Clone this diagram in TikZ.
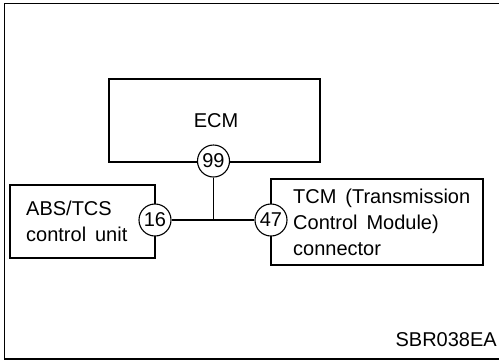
\documentclass[tikz,border=0pt]{standalone}
\usepackage{fontspec}
\setmainfont{Liberation Sans}[WordSpace=1.6]
\begin{document}
\begin{tikzpicture}[x=1pt,y=-1pt,
  box/.style={draw,line width=1.2pt},
  pin/.style={draw,circle,fill=white,line width=1.1pt,minimum size=32pt,inner sep=0pt,font=\fontsize{20}{24}\selectfont},
  lbl/.style={anchor=base west,inner sep=0pt,font=\fontsize{20}{24}\selectfont},
  wire/.style={line width=1.2pt}]
\useasboundingbox (0,0) rectangle (499,360);
\draw[line width=1.4pt] (499,3.5) -- (4.5,3.5) -- (4.5,359) -- (499,359);
% boxes
\node[box,minimum width=211pt,minimum height=83pt,inner sep=0pt] (ecm) at (214.5,120.5) {};
\node[box,minimum width=145pt,minimum height=73pt,inner sep=0pt] (abs) at (82.5,221.5) {};
\node[box,minimum width=212pt,minimum height=86pt,inner sep=0pt] (tcm) at (377,222) {};
% labels
\node[anchor=base,inner sep=0pt,font=\fontsize{20}{24}\selectfont] (ecmt) at (216,127) {ECM};
\node[lbl] (abs1) at (26,215) {ABS/TCS};
\node[lbl] (abs2) at (26,241) {control unit};
\node[lbl] (tcm1) at (293,203) {TCM (Transmission};
\node[lbl] (tcm2) at (293,229) {Control Module)};
\node[lbl] (tcm3) at (293,255) {connector};
\node[anchor=base east,inner sep=0pt,font=\fontsize{20}{24}\selectfont] (code) at (497,346) {SBR038EA};
% pins
\node[pin] (p99) at (213.5,161) {99};
\node[pin] (p16) at (155,220) {16};
\node[pin] (p47) at (271,220) {47};
\coordinate (j) at (p99.south |- p16.east);
\draw[wire] (p99.south) -- (j);
\draw[wire] (p16.east) -- (p47.west);
\end{tikzpicture}
\end{document}
